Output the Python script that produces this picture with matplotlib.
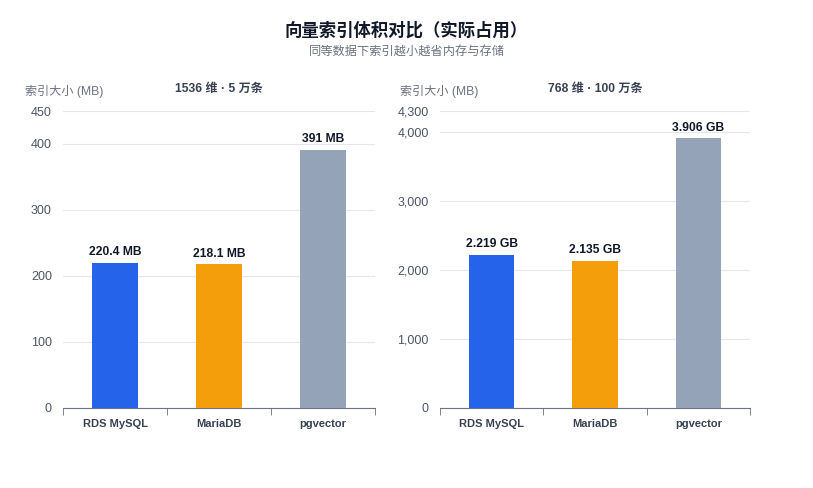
import matplotlib
matplotlib.use("Agg")
import matplotlib.pyplot as plt

plt.rcParams['font.family'] = ['Liberation Sans', 'Noto Sans CJK SC', 'DejaVu Sans']

categories = ['RDS MySQL', 'MariaDB', 'pgvector']
colors = ['#2563eb', '#f59e0b', '#94a3b8']

left_values = [220.4, 218.1, 391]
left_labels = ['220.4 MB', '218.1 MB', '391 MB']
left_ticks = [0, 100, 200, 300, 400, 450]

right_values = [2219, 2135, 3906]
right_labels = ['2.219 GB', '2.135 GB', '3.906 GB']
right_ticks = [0, 1000, 2000, 3000, 4000, 4300]

fig = plt.figure(figsize=(8.13, 4.88), dpi=100)
fig.text(0.5, 1 - 30 / 488, '向量索引体积对比（实际占用）', ha='center', va='center',
         fontsize=12.5, fontweight='bold', color='#111827')
fig.text(0.5, 1 - 52 / 488, '同等数据下索引越小越省内存与存储', ha='center', va='center',
         fontsize=8.8, color='#6b7280')


def panel(rect, values, labels, ticks, title, ylab_x):
    ax = fig.add_axes(rect)
    x = range(len(categories))
    ax.bar(x, values, width=0.44, color=colors, zorder=3)
    top = ticks[-1]
    for xi, v, lab in zip(x, values, labels):
        ax.text(xi, v + top * 0.015, lab, ha='center', va='bottom',
                fontsize=8.7, fontweight='bold', color='#111827', zorder=4)
    ax.set_xlim(-0.5, len(categories) - 0.5)
    ax.set_ylim(0, top)
    ax.set_yticks(ticks)
    ax.set_yticklabels([f'{t:,}' for t in ticks])
    ax.yaxis.grid(True, color='#e5e7eb', linewidth=0.8, zorder=0)
    ax.tick_params(axis='y', length=0, labelsize=9, labelcolor='#4b5563', pad=8)
    ax.set_xticks(list(x))
    ax.set_xticklabels(categories, fontsize=8, fontweight='bold', color='#374151')
    ax.set_xticks([i - 0.5 for i in range(len(categories) + 1)], minor=True)
    ax.tick_params(axis='x', which='major', length=0, pad=8)
    ax.tick_params(axis='x', which='minor', length=5, color='#6b7280')
    for s in ['top', 'right', 'left']:
        ax.spines[s].set_visible(False)
    ax.spines['bottom'].set_color('#6b7280')
    ax.set_title(title, fontsize=8.7, fontweight='bold', color='#374151', pad=14)
    fig.text(ylab_x / 813, 1 - 91 / 488, '索引大小 (MB)', ha='left', va='center',
             fontsize=8.7, color='#6b7280')
    return ax


panel([63 / 813, 80 / 488, 312 / 813, 297 / 488], left_values, left_labels,
      left_ticks, '1536 维 · 5 万条', 25)
panel([440 / 813, 80 / 488, 310 / 813, 297 / 488], right_values, right_labels,
      right_ticks, '768 维 · 100 万条', 400)

fig.savefig('out.png', dpi=100)
